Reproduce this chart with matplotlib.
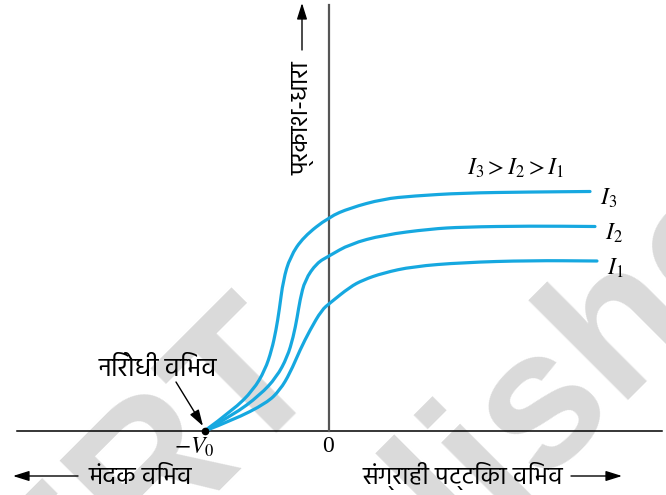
import numpy as np
import matplotlib
matplotlib.use("Agg")
import matplotlib.pyplot as plt
from matplotlib.path import Path
from matplotlib.patches import PathPatch
from matplotlib import font_manager, ft2font

# ---------------- data (V in units of V0, current in arbitrary units) ----------------
V0 = 1.0
i3_v = [-1.00, -0.768, -0.606, -0.512, -0.458, -0.423, -0.397, -0.365, -0.310, -0.203,
        0.004, 0.173, 0.44, 0.68, 1.085, 1.625, 2.109]
i3_i = [0.00, 0.21, 0.41, 0.61, 0.81, 1.01, 1.21, 1.51, 1.74, 1.94,
        2.14, 2.23, 2.32, 2.35, 2.38, 2.39, 2.395]
i2_v = [-1.00, -0.768, -0.552, -0.418, -0.332, -0.284, -0.252, -0.230, -0.190, -0.095,
        0.004, 0.173, 0.442, 0.819, 1.087, 1.625, 2.149]
i2_i = [0.00, 0.16, 0.36, 0.54, 0.74, 0.94, 1.14, 1.31, 1.51, 1.68,
        1.75, 1.87, 1.96, 2.02, 2.04, 2.05, 2.045]
i1_v = [-1.00, -0.768, -0.498, -0.391, -0.310, -0.230, -0.149, -0.055, 0.012, 0.173,
        0.278, 0.44, 0.68, 1.085, 1.625, 2.165]
i1_i = [0.00, 0.11, 0.28, 0.41, 0.58, 0.81, 1.01, 1.21, 1.28, 1.44,
        1.51, 1.58, 1.645, 1.685, 1.705, 1.70]
series_labels = [r"$I_3$", r"$I_2$", r"$I_1$"]
order_label = r"$I_3 > I_2 > I_1$"
y_label = "प्रकाश-धारा"
stop_label = "निरोधी विभव"
left_label = "मंदक विभव"
right_label = "संग्राही पट्टिका विभव"

# ---------------- fonts ----------------
found = []
for f in font_manager.fontManager.ttflist:
    try:
        if 0x0915 in ft2font.FT2Font(f.fname).get_charmap():
            found.append(f.name)
    except Exception:
        pass
deva = None
for cand in ["Hind", "Mukta", "Yantramanav", "Noto Sans Devanagari", "Poppins",
             "Palanquin", "Sarala"]:
    if cand in found:
        deva = cand
        break
if deva is None and found:
    deva = found[0]
deva_family = [deva, "DejaVu Sans"] if deva else ["DejaVu Sans"]
plt.rcParams["mathtext.fontset"] = "stix"

W, H = 666, 495
fig = plt.figure(figsize=(W / 100, H / 100), dpi=100)
ax = fig.add_axes([0, 0, 1, 1])
X0, Y0, SX, SY = 328.5, 431.0, 124.0, 100.0
ax.set_xlim(-X0 / SX, (W - X0) / SX)
ax.set_ylim((Y0 - H) / SY, Y0 / SY)
ax.axis("off")


def P(px, py):
    return ((px - X0) / SX, (Y0 - py) / SY)


blue = "#16a8e0"


def smooth_path(xs, ys):
    pts = np.column_stack([xs, ys])
    verts = [pts[0]]
    codes = [Path.MOVETO]
    for i in range(1, len(pts) - 1):
        mid = (pts[i] + pts[i + 1]) / 2
        verts += [pts[i], mid]
        codes += [Path.CURVE3, Path.CURVE3]
    verts.append(pts[-1])
    codes.append(Path.LINETO)
    return Path(verts, codes)


# watermark
wm = dict(rotation=45, rotation_mode="anchor", va="baseline", fontsize=140,
          fontweight="bold", family="Liberation Sans", color="#dadada", zorder=0)
ax.text(*P(325, 372), "NCERT", ha="right", **wm)
ax.text(*P(80, 935), "republished", ha="left", **wm)

# axes lines
ax.plot([P(17, 0)[0], P(662, 0)[0]], [0, 0], color="black", lw=1.1, zorder=2)
ax.plot([0, 0], [0, P(0, 5)[1]], color="#555555", lw=1.6, zorder=2)

for xs, ys in [(i3_v, i3_i), (i2_v, i2_i), (i1_v, i1_i)]:
    ax.add_patch(PathPatch(smooth_path(xs, ys), facecolor="none", edgecolor=blue,
                           lw=2.3, zorder=3, capstyle="round"))

ax.plot([-V0], [0], "o", color="black", ms=4.5, zorder=4)

for lab, xs, ys in zip(series_labels, [i3_v, i2_v, i1_v], [i3_i, i2_i, i1_i]):
    ax.text(xs[-1] + 0.08, ys[-1] - 0.07, lab, fontsize=17, ha="left", va="center")

ax.text(*P(516, 168), order_label, fontsize=17, ha="center", va="center")

ax.text(*P(194, 447), r"$-V_0$", fontsize=17, ha="center", va="center")
ax.text(*P(328, 447), "0", fontsize=17, ha="center", va="center", family="Liberation Serif")

arrow_kw = dict(arrowstyle="-|>,head_length=0.7,head_width=0.22", color="black",
                lw=1.0, mutation_scale=14, shrinkA=0, shrinkB=0)
ax.annotate("", xy=P(302, 3), xytext=P(302, 50), arrowprops=arrow_kw)
ax.annotate("", xy=P(13, 476), xytext=P(78, 476), arrowprops=arrow_kw)
ax.annotate("", xy=P(622, 476), xytext=P(571, 476), arrowprops=arrow_kw)
ax.annotate("", xy=P(203, 426), xytext=P(176, 382), arrowprops=arrow_kw)

ax.text(*P(303, 118), y_label, rotation=90, fontsize=18, ha="center", va="center",
        family=deva_family)
ax.text(*P(158, 376), stop_label, fontsize=19, ha="center", va="baseline", family=deva_family)
ax.text(*P(140, 484), left_label, fontsize=18, ha="center", va="baseline", family=deva_family)
ax.text(*P(463, 484), right_label, fontsize=18, ha="center", va="baseline", family=deva_family)

fig.savefig("out.png", dpi=100)
